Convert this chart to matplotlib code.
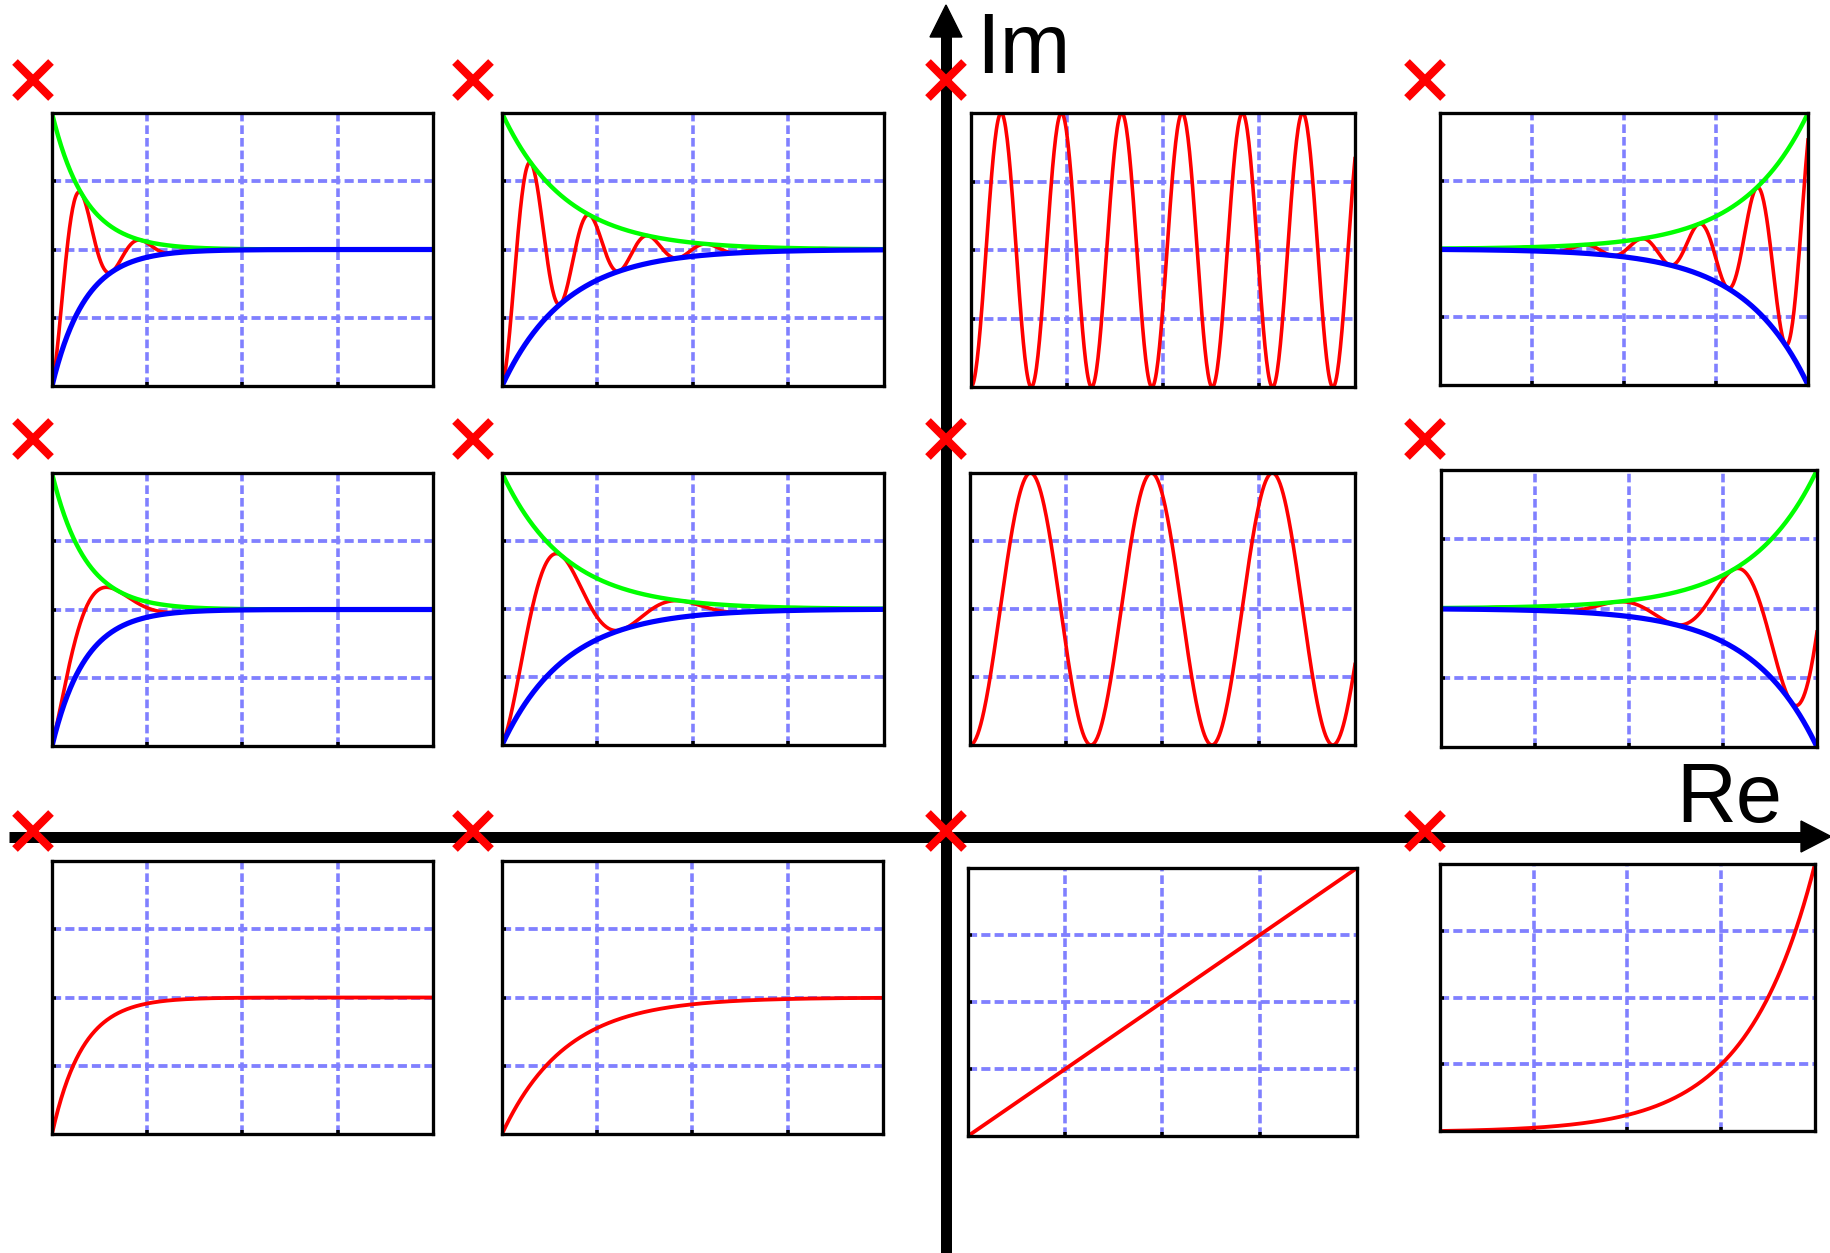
import numpy as np
import matplotlib
matplotlib.use("Agg")
import matplotlib.pyplot as plt
from matplotlib.patches import Polygon

W, H = 1831, 1253
DPI = 100
PT = 72.0 / DPI  # points per pixel

# Real part of the pole in each column (negative = decaying, positive = growing)
sigma_osc = [-11.5, -6.0, 0.0, 5.7]      # complex-pole rows
sigma_real = [-12.5, -6.0, 0.0, 5.5]     # poles on the real axis
# Oscillation frequency (imaginary part) for the two complex-pole rows
omega_row1 = [40.0, 41.0, 40.0, 40.2]
omega_row2 = [18.0, 20.0, 20.0, 20.25]
grid_levels = [0.25, 0.5, 0.75]

# Pole marker positions on the plane (pixels)
pole_x = [33, 473, 946, 1425]
pole_y = [80, 439, 831]

# Response panels (x0, y0, x1, y1) in pixels, row by row
panel_boxes = [
    [(52, 113, 433, 386), (502, 113, 884, 386), (971, 113, 1355, 387), (1440, 113, 1808, 385)],
    [(52, 473, 433, 746), (502, 473, 884, 745), (970, 473, 1355, 745), (1441, 470, 1817, 747)],
    [(52, 861, 433, 1134), (502, 861, 883, 1134), (968, 868, 1357, 1136), (1440, 864, 1815, 1131)],
]

RED, GREEN, BLUE, GRID = "#FF0000", "#00FF00", "#0000FF", "#8080FF"

fig = plt.figure(figsize=(W / DPI, H / DPI), dpi=DPI)
fig.patch.set_facecolor("white")

# Complex-plane background in pixel units
bg = fig.add_axes([0, 0, 1, 1])
bg.set_xlim(0, W)
bg.set_ylim(H, 0)
bg.axis("off")

# Axes of the plane with arrow heads
bg.plot([946, 946], [36, H + 5], color="black", lw=11 * PT, solid_capstyle="butt", zorder=2)
bg.add_patch(Polygon([(930, 37), (962, 37), (946, 5)], closed=True, color="black", zorder=2))
bg.plot([9, 1802], [836.5, 836.5], color="black", lw=11 * PT, solid_capstyle="butt", zorder=2)
bg.add_patch(Polygon([(1801, 821), (1801, 852), (1831, 836.5)], closed=True, color="black", zorder=2))

bg.text(976, 73, "Im", fontsize=85 * PT, family="Liberation Sans", ha="left", va="baseline", zorder=3)
bg.text(1676, 822, "Re", fontsize=83 * PT, family="Liberation Sans", ha="left", va="baseline", zorder=3)

# Pole markers
d = 18
for py in pole_y:
    for px in pole_x:
        bg.plot([px - d, px + d], [py - d, py + d], color=RED, lw=8 * PT, solid_capstyle="butt", zorder=4)
        bg.plot([px - d, px + d], [py + d, py - d], color=RED, lw=8 * PT, solid_capstyle="butt", zorder=4)


def envelope(t, s):
    # normalised so decaying responses start at 1 and growing ones end at 1
    return np.exp(s * (t - (1.0 if s > 0 else 0.0)))


def make_panel(box):
    x0, y0, x1, y1 = box
    ax = fig.add_axes([x0 / W, 1 - y1 / H, (x1 - x0) / W, (y1 - y0) / H])
    ax.set_xlim(0, 1)
    ax.set_ylim(0, 1)
    ax.set_facecolor("white")
    for g in grid_levels:
        ax.axhline(g, color=GRID, lw=3.8 * PT, ls=(0, (2.4, 1.1)), zorder=1)
        ax.axvline(g, color=GRID, lw=3.6 * PT, ls=(0, (2.4, 1.1)), zorder=1)
    ax.set_xticks(grid_levels)
    ax.set_yticks(grid_levels)
    ax.tick_params(direction="in", length=4 * PT, width=3.5 * PT, color="black",
                   labelbottom=False, labelleft=False, top=False, right=False)
    for sp in ax.spines.values():
        sp.set_linewidth(3.3 * PT)
        sp.set_color("black")
    return ax


t = np.linspace(0, 1, 500)

# Complex-pole rows: oscillation inside an exponential envelope
for r, omegas in enumerate([omega_row1, omega_row2]):
    for c in range(4):
        ax = make_panel(panel_boxes[r][c])
        s = sigma_osc[c]
        env = envelope(t, s)
        ax.plot(t, 0.5 - 0.5 * env * np.cos(omegas[c] * t), color=RED, lw=3.6 * PT, zorder=2)
        if s != 0:
            ax.plot(t, 0.5 + 0.5 * env, color=GREEN, lw=4.4 * PT, zorder=2.1)
            ax.plot(t, 0.5 - 0.5 * env, color=BLUE, lw=5.2 * PT, zorder=2.2)

# Real-axis row: non-oscillating responses
for c in range(4):
    ax = make_panel(panel_boxes[2][c])
    s = sigma_real[c]
    if s < 0:
        y = 0.5 * (1 - np.exp(s * t))
    elif s == 0:
        y = t
    else:
        y = (np.exp(s * t) - 1) / (np.exp(s) - 1)
    ax.plot(t, y, color=RED, lw=3.8 * PT, zorder=2)

fig.savefig("out.png", dpi=DPI, facecolor="white")
